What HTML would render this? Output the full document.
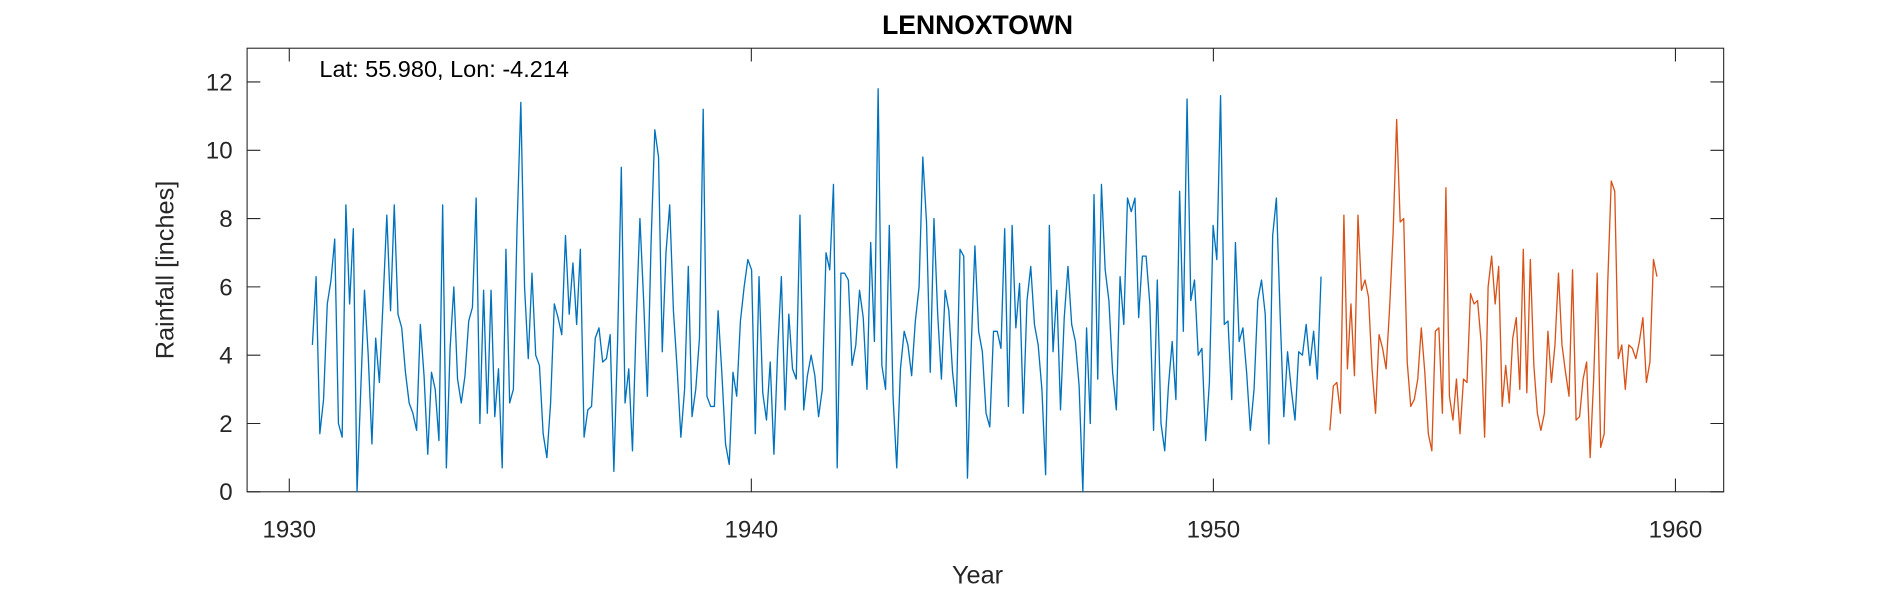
<!DOCTYPE html>
<html><head><meta charset="utf-8"><style>
html,body{margin:0;padding:0;background:#fff;width:1890px;height:591px;overflow:hidden;}
svg{display:block;position:absolute;left:0;top:0;width:1890px;height:591px;font-family:"Liberation Sans",sans-serif;}
</style></head><body>
<svg id="chart" width="1890" height="591" viewBox="0 0 1568 490.3" preserveAspectRatio="none">
<rect width="1568" height="490.3" fill="#fff"/>
<text x="811" y="28" text-anchor="middle" font-size="22" font-weight="bold" fill="#000">LENNOXTOWN</text>
<g id="axes"></g>
<g id="series"></g>
<text x="265" y="64" font-size="19.5" fill="#000">Lat: 55.980, Lon: -4.214</text>
<text x="811" y="484" text-anchor="middle" font-size="21" fill="#262626">Year</text>
<text x="144" y="224" text-anchor="middle" font-size="21" fill="#262626" transform="rotate(-90 144 224)">Rainfall [inches]</text>
</svg>
<script>
const xTicks=[1930,1940,1950,1960];
const yTicks=[0,2,4,6,8,10,12];
const blueStart=1930.5, blueEnd=1952.33;
const blueValues=[4.3,6.3,1.7,2.7,5.5,6.2,7.4,2.0,1.6,8.4,5.5,7.7,0.0,3.0,5.9,4.0,1.4,4.5,3.2,5.6,8.1,5.3,8.4,5.2,4.8,3.5,2.6,2.3,1.8,4.9,3.4,1.1,3.5,3.0,1.5,8.4,0.7,4.2,6.0,3.3,2.6,3.4,5.0,5.4,8.6,2.0,5.9,2.3,5.9,2.2,3.6,0.7,7.1,2.6,3.0,7.8,11.4,6.0,3.9,6.4,4.0,3.7,1.7,1.0,2.6,5.5,5.1,4.6,7.5,5.2,6.7,4.9,7.1,1.6,2.4,2.5,4.5,4.8,3.8,3.9,4.6,0.6,4.4,9.5,2.6,3.6,1.2,5.0,8.0,5.6,2.8,7.3,10.6,9.8,4.1,7.0,8.4,5.3,3.6,1.6,3.0,6.6,2.2,3.0,4.5,11.2,2.8,2.5,2.5,5.3,3.5,1.4,0.8,3.5,2.8,5.0,6.0,6.8,6.5,1.7,6.3,2.9,2.1,3.8,1.1,4.1,6.3,2.4,5.2,3.6,3.3,8.1,2.4,3.4,4.0,3.4,2.2,3.0,7.0,6.5,9.0,0.7,6.4,6.4,6.2,3.7,4.3,5.9,5.1,3.0,7.3,4.4,11.8,3.7,3.0,7.8,2.8,0.7,3.6,4.7,4.3,3.4,5.0,6.0,9.8,7.9,3.5,8.0,5.2,3.3,5.9,5.3,3.5,2.5,7.1,6.9,0.4,4.2,7.2,4.7,4.1,2.3,1.9,4.7,4.7,4.2,7.7,2.5,7.8,4.8,6.1,2.3,5.6,6.6,4.9,4.3,3.0,0.5,7.8,4.1,5.9,2.4,5.1,6.6,4.9,4.4,3.1,0.0,4.8,2.0,8.7,3.3,9.0,6.5,5.6,3.5,2.4,6.3,4.9,8.6,8.2,8.6,5.1,6.9,6.9,5.5,1.8,6.2,2.0,1.2,3.1,4.4,2.7,8.8,4.7,11.5,5.6,6.2,4.0,4.2,1.5,3.2,7.8,6.8,11.6,4.9,5.0,2.7,7.3,4.4,4.8,3.5,1.8,3.0,5.6,6.2,5.2,1.4,7.5,8.6,5.2,2.2,4.1,3.0,2.1,4.1,4.0,4.9,3.7,4.7,3.3,6.3];
const orangeStart=1952.52, orangeEnd=1959.6;
const orangeValues=[1.8,3.1,3.2,2.3,8.1,3.6,5.5,3.4,8.1,5.9,6.2,5.7,3.6,2.3,4.6,4.2,3.6,5.4,7.6,10.9,7.9,8.0,3.8,2.5,2.7,3.3,4.8,3.5,1.7,1.2,4.7,4.8,2.3,8.9,2.8,2.1,3.3,1.7,3.3,3.2,5.8,5.5,5.6,4.4,1.6,6.0,6.9,5.5,6.6,2.5,3.7,2.6,4.5,5.1,3.0,7.1,2.9,6.8,3.7,2.3,1.8,2.3,4.7,3.2,4.3,6.4,4.3,3.5,2.8,6.5,2.1,2.2,3.3,3.8,1.0,3.3,6.4,1.3,1.7,6.1,9.1,8.8,3.9,4.3,3.0,4.3,4.2,3.9,4.4,5.1,3.2,3.8,6.8,6.3];

const NS='http://www.w3.org/2000/svg';
const L=205,R=1430,T=40,B=408;
const X=y=>240+(y-1930)*(1390-240)/30;
const Y=v=>B-(v-0)*(B-68)/12;
const axes=document.getElementById('axes');
function mk(tag,attrs,parent){const e=document.createElementNS(NS,tag);for(const k in attrs)e.setAttribute(k,attrs[k]);parent.appendChild(e);return e;}
const box=mk('rect',{x:L,y:T,width:R-L,height:B-T,fill:'none',stroke:'#262626','stroke-width':0.9},axes);


xTicks.forEach(t=>{
  const x=X(t);
  const tk=mk('path',{d:`M${x},${B}V${B-11}M${x},${T}V${T+11}`,stroke:'#262626','stroke-width':0.9},axes);
  
  
  const lb=mk('text',{x:x,y:B+38,'text-anchor':'middle','font-size':20,fill:'#262626'},axes);
  lb.textContent=t;
  
  
});
yTicks.forEach(t=>{
  const y=Y(t);
  const tk=mk('path',{d:`M${L},${y}H${L+11}M${R},${y}H${R-11}`,stroke:'#262626','stroke-width':0.9},axes);
  
  
  const lb=mk('text',{x:L-12,y:y+7,'text-anchor':'end','font-size':20,fill:'#262626'},axes);
  lb.textContent=t;
  
  
});
const series=document.getElementById('series');
function line(vals,start,end,color,name){
  const step=(end-start)/(vals.length-1);
  const d=vals.map((v,i)=>(i?'L':'M')+X(start+i*step).toFixed(2)+','+Y(v).toFixed(2)).join('');
  const p=mk('path',{d:d,fill:'none',stroke:color,'stroke-width':1.1,'stroke-linejoin':'round'},series);
  
  
}
line(blueValues,blueStart,blueEnd,'#0072BD','observed-rainfall-line');
line(orangeValues,orangeStart,orangeEnd,'#D95319','later-rainfall-line');
</script>
</body></html>
